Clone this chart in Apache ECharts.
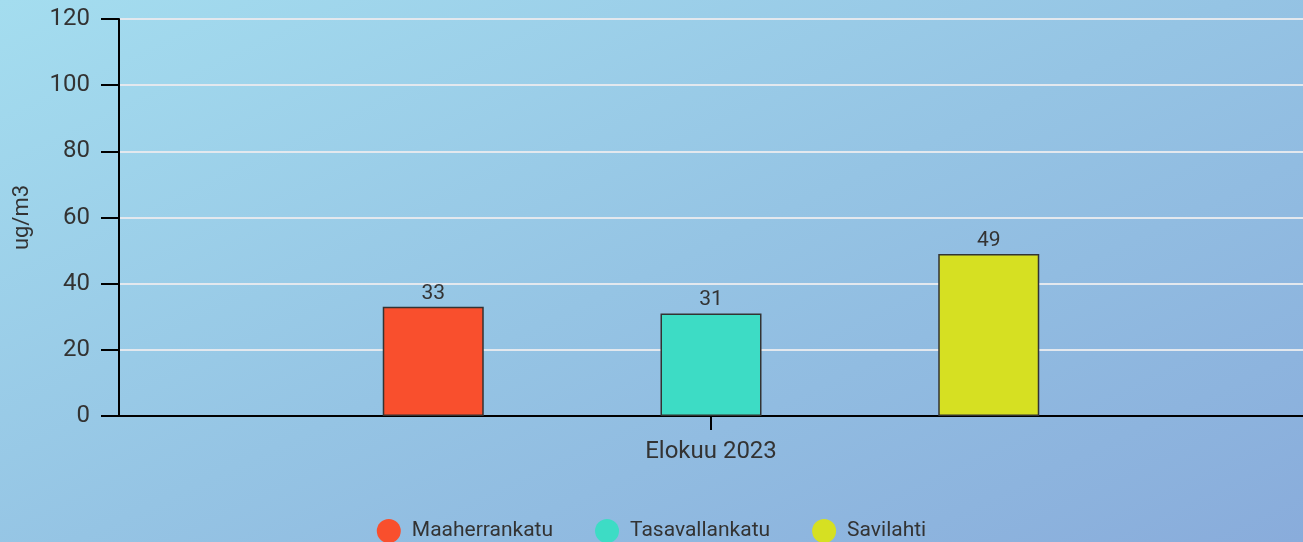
<!DOCTYPE html>
<html>
<head>
<meta charset="utf-8">
<script src="https://cdn.jsdelivr.net/npm/echarts@6/dist/echarts.min.js"></script>
<style>
  html, body { margin: 0; padding: 0; }
  #chart {
    width: 1303px;
    height: 542px;
    background: linear-gradient(155deg, #a4ddef 0%, #95c4e4 50%, #89acdb 100%);
  }
</style>
</head>
<body>
<div id="chart"></div>
<script>
const categories = ['Elokuu 2023'];
const stations = ['Maaherrankatu', 'Tasavallankatu', 'Savilahti'];
const maaherrankatu = [33];
const tasavallankatu = [31];
const savilahti = [49];
const yTicks = [0, 20, 40, 60, 80, 100, 120];

const stationColors = ['#f94f2d', '#3ddcc5', '#d6e022'];
const font = 'Roboto';

const chart = echarts.init(document.getElementById('chart'), null, { renderer: 'canvas' });

function makeSeries(name, values, color) {
  return {
    name: name,
    type: 'bar',
    data: values,
    barWidth: 101,
    barGap: '175%',
    itemStyle: { color: color, borderColor: '#333', borderWidth: 1.5 },
    label: {
      show: true,
      position: 'top',
      distance: 3,
      color: '#333',
      fontFamily: font,
      fontSize: 21
    }
  };
}

chart.setOption({
  animation: false,
  textStyle: { fontFamily: font },
  grid: { left: 119, width: 1190, top: 19, bottom: 126, containLabel: false },
  legend: {
    bottom: -6,
    left: 'center',
    icon: 'circle',
    itemWidth: 24,
    itemHeight: 24,
    itemGap: 42,
    itemStyle: { borderWidth: 0 },
    textStyle: { color: '#333', fontSize: 21, fontFamily: font, padding: [0, 0, 0, 6] },
    data: stations
  },
  xAxis: {
    type: 'category',
    data: categories,
    axisLine: { lineStyle: { color: '#000', width: 2 } },
    axisTick: { show: true, alignWithLabel: true, length: 14, lineStyle: { color: '#000', width: 2 } },
    axisLabel: { color: '#333', fontSize: 24, fontFamily: font, margin: 24 }
  },
  yAxis: {
    type: 'value',
    min: yTicks[0],
    max: yTicks[yTicks.length - 1],
    interval: yTicks[1] - yTicks[0],
    name: 'ug/m3',
    nameLocation: 'middle',
    nameGap: 86,
    nameRotate: 90,
    nameTextStyle: { color: '#333', fontSize: 22, fontFamily: font },
    axisLine: { show: true, lineStyle: { color: '#000', width: 2 } },
    axisTick: { show: true, length: 18, lineStyle: { color: '#000', width: 2 } },
    axisLabel: { color: '#333', fontSize: 24, fontFamily: font, margin: 29 },
    splitLine: { lineStyle: { color: '#e3e8ee', width: 2 } }
  },
  series: [
    makeSeries(stations[0], maaherrankatu, stationColors[0]),
    makeSeries(stations[1], tasavallankatu, stationColors[1]),
    makeSeries(stations[2], savilahti, stationColors[2])
  ]
});
</script>
</body>
</html>
